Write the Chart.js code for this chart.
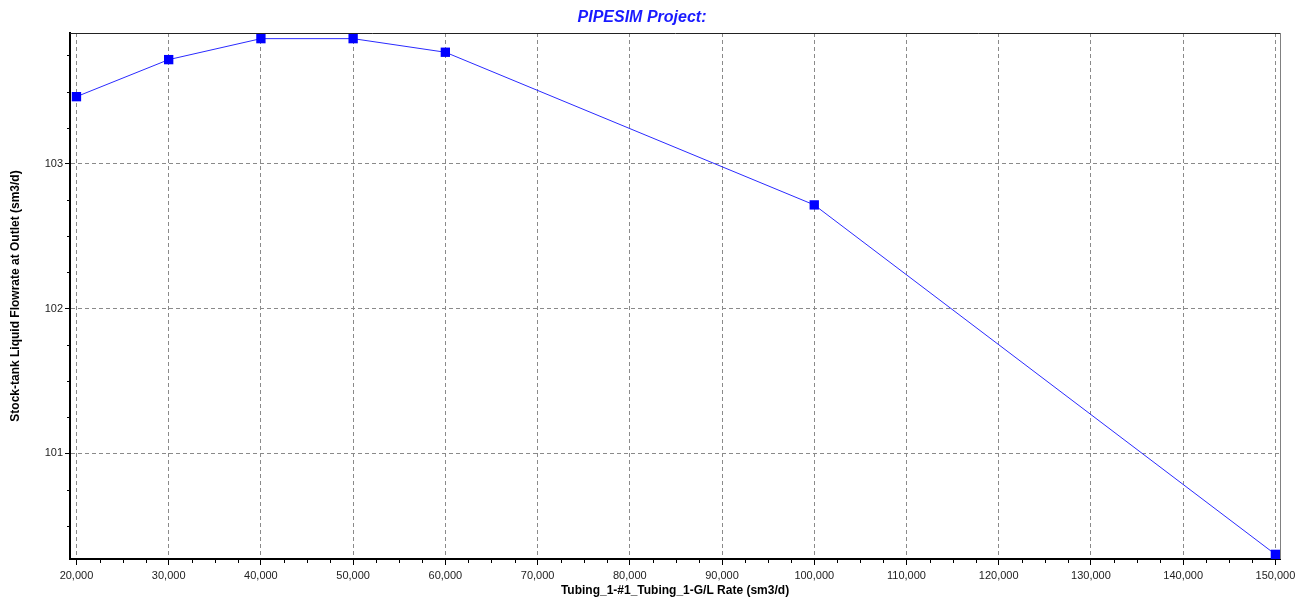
<!DOCTYPE html>
<html>
<head>
<meta charset="utf-8">
<title>PIPESIM Project</title>
<script src="https://cdn.jsdelivr.net/npm/chart.js@4/dist/chart.umd.min.js"></script>
<style>
  html, body { margin: 0; padding: 0; background: #ffffff; }
  #wrap { width: 1306px; height: 604px; }
  canvas { display: block; }
</style>
</head>
<body>
<div id="wrap"><canvas id="chart" width="1306" height="604"></canvas></div>
<script>
// Gas/liquid ratio sensitivity: outlet liquid flowrate per G/L rate
const gasRates = [20000, 30000, 40000, 50000, 60000, 100000, 150000];
const liquidRates = [103.465, 103.721, 103.866, 103.866, 103.772, 102.717, 100.302];

// Axis ticks
const xTickValues = [20000, 30000, 40000, 50000, 60000, 70000, 80000, 90000, 100000,
                     110000, 120000, 130000, 140000, 150000];
const yTickValues = [101, 102, 103];
const xMinorStep = 2500;
const yMinorStep = 0.25;

const chartTitle = 'PIPESIM Project:';
const xTitle = 'Tubing_1-#1_Tubing_1-G/L Rate (sm3/d)';
const yTitle = 'Stock-tank Liquid Flowrate at Outlet (sm3/d)';

const points = gasRates.map((x, i) => ({ x: x, y: liquidRates[i] }));

// Title, plot frame (top/right edges) and minor tick marks
const decorations = {
  id: 'decorations',
  afterDraw(chart) {
    const { ctx, chartArea: a, scales } = chart;
    const xs = scales.x, ys = scales.y;
    ctx.save();
    ctx.setLineDash([]);

    // top and right edges of the plot frame
    ctx.lineWidth = 1;
    ctx.strokeStyle = '#222222';
    ctx.beginPath();
    ctx.moveTo(a.left, a.top + 0.5);
    ctx.lineTo(a.right + 1, a.top + 0.5);
    ctx.stroke();
    ctx.strokeStyle = '#808080';
    ctx.beginPath();
    ctx.moveTo(a.right + 0.5, a.top);
    ctx.lineTo(a.right + 0.5, a.bottom);
    ctx.stroke();

    // minor ticks
    ctx.strokeStyle = '#000000';
    ctx.beginPath();
    for (let v = xTickValues[0]; v <= xs.max; v += xMinorStep) {
      if (xTickValues.includes(v) || v < xs.min) continue;
      const px = Math.round(xs.getPixelForValue(v)) + 0.5;
      ctx.moveTo(px, a.bottom);
      ctx.lineTo(px, a.bottom + 4);
    }
    for (let v = Math.ceil(ys.min / yMinorStep) * yMinorStep; v <= ys.max; v += yMinorStep) {
      const r = Math.round(v * 100) / 100;
      if (yTickValues.includes(r)) continue;
      const py = Math.round(ys.getPixelForValue(r)) + 0.5;
      ctx.moveTo(a.left - 3, py);
      ctx.lineTo(a.left, py);
    }
    ctx.stroke();

    // chart title
    ctx.fillStyle = '#1a1aff';
    ctx.font = 'italic bold 16px "Liberation Sans", Arial, sans-serif';
    ctx.textAlign = 'center';
    ctx.textBaseline = 'alphabetic';
    ctx.fillText(chartTitle, 642, 21.5);
    ctx.restore();
  }
};

new Chart(document.getElementById('chart'), {
  type: 'line',
  data: {
    datasets: [{
      data: points,
      borderColor: '#2a2aff',
      borderWidth: 1,
      backgroundColor: '#0000ff',
      pointStyle: 'rect',
      pointRadius: 6.6,
      pointHoverRadius: 6.6,
      pointBorderWidth: 0,
      pointBackgroundColor: '#0000ff',
      tension: 0,
      clip: false
    }]
  },
  options: {
    responsive: false,
    animation: false,
    devicePixelRatio: 1,
    layout: { padding: { left: 0, right: 26, top: 33, bottom: 0 } },
    plugins: {
      legend: { display: false },
      tooltip: { enabled: false },
      title: { display: false }
    },
    scales: {
      x: {
        type: 'linear',
        min: 19300,
        max: 150500,
        afterBuildTicks(scale) { scale.ticks = xTickValues.map(v => ({ value: v })); },
        afterFit(scale) { scale.height = 45; },
        ticks: {
          autoSkip: false,
          maxRotation: 0,
          padding: 4,
          color: '#222222',
          font: { family: '"Liberation Sans", Arial, sans-serif', size: 11 },
          callback: v => Number(v).toLocaleString('en-US')
        },
        grid: {
          color: '#8a8a8a',
          lineWidth: 1,
          drawTicks: true,
          tickLength: 6,
          tickColor: '#000000',
          tickBorderDash: [],
          tickWidth: 1
        },
        border: { display: true, color: '#000000', width: 2, dash: [4, 3] },
        title: {
          display: true,
          text: xTitle,
          color: '#000000',
          font: { family: '"Liberation Sans", Arial, sans-serif', size: 12, weight: 'bold', lineHeight: 1.2 },
          padding: { top: 0, bottom: 6 }
        }
      },
      y: {
        type: 'linear',
        min: 100.27,
        max: 103.905,
        afterBuildTicks(scale) { scale.ticks = yTickValues.map(v => ({ value: v })); },
        afterFit(scale) { scale.width = 70; },
        ticks: {
          padding: 2,
          color: '#222222',
          font: { family: '"Liberation Sans", Arial, sans-serif', size: 11 },
          callback: v => String(v)
        },
        grid: {
          color: '#8a8a8a',
          lineWidth: 1,
          drawTicks: true,
          tickLength: 5,
          tickColor: '#000000',
          tickBorderDash: [],
          tickWidth: 1
        },
        border: { display: true, color: '#000000', width: 2, dash: [4, 3] },
        title: {
          display: true,
          text: yTitle,
          color: '#000000',
          font: { family: '"Liberation Sans", Arial, sans-serif', size: 12, weight: 'bold', lineHeight: 1.2 },
          padding: { top: 8, bottom: 0 }
        }
      }
    }
  },
  plugins: [decorations]
});
</script>
</body>
</html>
